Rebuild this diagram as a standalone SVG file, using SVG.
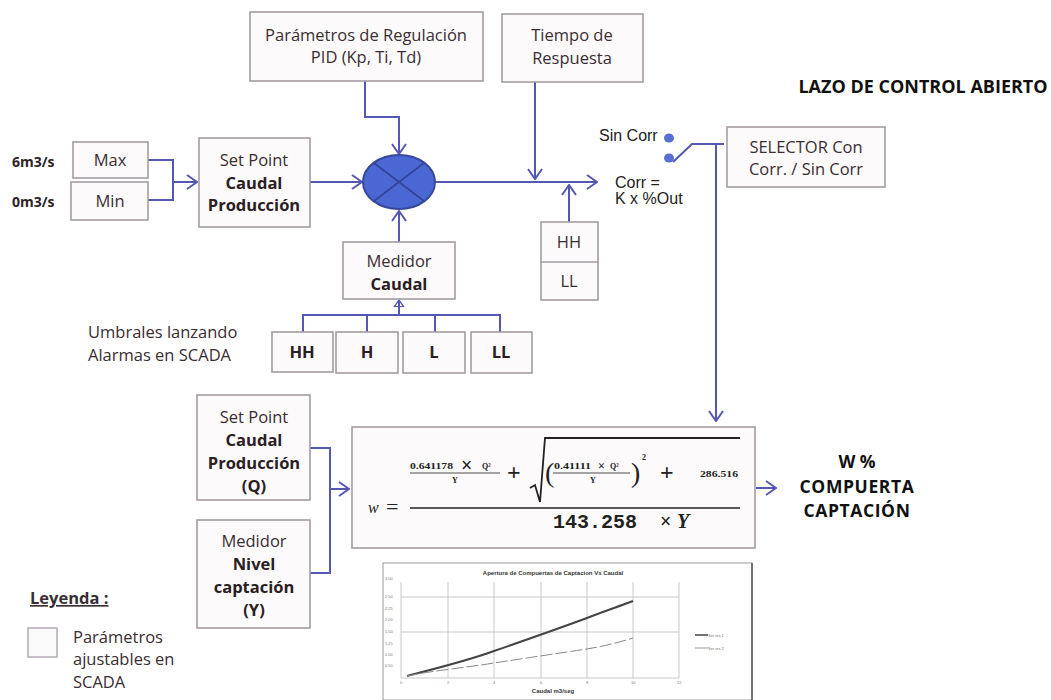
<svg xmlns="http://www.w3.org/2000/svg" width="1051" height="700" viewBox="0 0 1051 700">
<defs>
<style>
.box{fill:#fcfafa;stroke:#a39da3;stroke-width:1.6}
.t{font-family:"Open Sans","Liberation Sans",sans-serif;font-size:16.5px;font-weight:500;fill:#3a2d33;text-anchor:middle}
.b{font-weight:bold;fill:#2a2024}
.lbl{font-family:"Open Sans","Liberation Sans",sans-serif;font-size:14px;fill:#2e2428;font-weight:bold}
.ar{font-family:"Liberation Sans",Arial,sans-serif;font-size:16px;fill:#222}
.big{font-family:"Open Sans","Liberation Sans",sans-serif;font-weight:bold;fill:#111;text-anchor:middle}
.c{fill:none;stroke:#5557b4;stroke-width:2}
.f{font-family:"Liberation Serif","DejaVu Serif",serif;fill:#222}
.g{stroke:#bbb;stroke-width:0.8;fill:none}
.tiny{font-family:"Liberation Sans",sans-serif;font-size:4px;fill:#777}
</style>
<marker id="ah" viewBox="0 0 12 16" refX="11" refY="8" markerWidth="12" markerHeight="16" markerUnits="userSpaceOnUse" orient="auto">
<path d="M1,1 L11,8 L1,15" fill="none" stroke="#5557b4" stroke-width="2"/>
</marker>
<marker id="ahs" viewBox="0 0 12 16" refX="11" refY="8" markerWidth="8" markerHeight="12" markerUnits="userSpaceOnUse" orient="auto">
<path d="M1,1 L11,8 L1,15 Z" fill="none" stroke="#5557b4" stroke-width="2"/>
</marker>
</defs>
<rect width="1051" height="700" fill="#fff"/>

<g id="connectors">
<path class="c" d="M148,160 H173 V200 H148"/>
<path class="c" d="M173,182 H197" marker-end="url(#ah)"/>
<path class="c" d="M310,182 H362" marker-end="url(#ah)"/>
<path class="c" d="M365,81 V117 H399 V154" marker-end="url(#ah)"/>
<path class="c" d="M399,242 V211" marker-end="url(#ah)"/>
<path class="c" d="M435,182 H597" marker-end="url(#ah)"/>
<path class="c" d="M535,82 V179" marker-end="url(#ah)"/>
<path class="c" d="M569,222 V185" marker-end="url(#ah)"/>
<path class="c" d="M303,332 V315 H500 V332 M367,315 V332 M435,315 V332"/>
<path class="c" d="M399,315 V300" marker-end="url(#ahs)"/>
<path class="c" d="M673,162 L692,144 H724 M716,144 V421" marker-end="url(#ah)"/>
<path class="c" d="M310,448 H330 V573 H310"/>
<path class="c" d="M330,489 H349" marker-end="url(#ah)"/>
<path class="c" d="M756,488 H776" marker-end="url(#ah)"/>
</g>

<g id="pid">
<rect class="box" x="250" y="12" width="233" height="69"/>
<text class="t" x="366" y="41">Parámetros de Regulación</text>
<text class="t" x="366" y="63">PID (Kp, Ti, Td)</text>
</g>
<g id="tiempo">
<rect class="box" x="502" y="14" width="141" height="68"/>
<text class="t" x="572" y="41">Tiempo de</text>
<text class="t" x="572" y="64">Respuesta</text>
</g>
<g id="max">
<text class="lbl" x="12" y="167">6m3/s</text>
<rect class="box" x="73" y="142" width="75" height="36"/>
<text class="t" x="110" y="166">Max</text>
</g>
<g id="min">
<text class="lbl" x="12" y="207">0m3/s</text>
<rect class="box" x="71" y="182" width="77" height="38"/>
<text class="t" x="110" y="207">Min</text>
</g>
<g id="setpoint">
<rect class="box" x="199" y="138" width="111" height="89"/>
<text class="t" x="254" y="166">Set Point</text>
<text class="t b" x="254" y="189">Caudal</text>
<text class="t b" x="254" y="211">Producción</text>
</g>
<g id="sum">
<ellipse cx="399" cy="182" rx="36" ry="27" fill="#4a67d3" stroke="#37489c" stroke-width="2"/>
<path d="M374,163 L424,201 M424,163 L374,201" stroke="#33449a" stroke-width="1.8"/>
</g>
<g id="medidor-caudal">
<rect class="box" x="343" y="242" width="112" height="57"/>
<text class="t" x="399" y="267">Medidor</text>
<text class="t b" x="399" y="290">Caudal</text>
</g>
<g id="hhll-right">
<rect class="box" x="541" y="222" width="57" height="78"/>
<line x1="541" y1="262" x2="598" y2="262" stroke="#a39da3" stroke-width="1.6"/>
<text class="t" x="569" y="248">HH</text>
<text class="t" x="569" y="287">LL</text>
</g>
<g id="umbrales">
<text class="t" x="88" y="338" style="text-anchor:start">Umbrales  lanzando</text>
<text class="t" x="88" y="361" style="text-anchor:start">Alarmas en SCADA</text>
</g>
<g id="th-hh"><rect class="box" x="272" y="332" width="61" height="40"/><text class="t b" x="302" y="358">HH</text></g>
<g id="th-h"><rect class="box" x="336" y="332" width="62" height="41"/><text class="t b" x="367" y="358">H</text></g>
<g id="th-l"><rect class="box" x="403" y="332" width="62" height="41"/><text class="t b" x="434" y="358">L</text></g>
<g id="th-ll"><rect class="box" x="471" y="332" width="61" height="41"/><text class="t b" x="501" y="358">LL</text></g>

<g id="switch">
<text class="ar" x="599" y="141">Sin Corr</text>
<ellipse cx="669" cy="138" rx="5" ry="4.5" fill="#5870d6"/>
<ellipse cx="669" cy="158" rx="5" ry="4.5" fill="#5870d6"/>
<text class="ar" x="615" y="188">Corr =</text>
<text class="ar" x="615" y="204">K x %Out</text>
</g>
<g id="selector">
<rect class="box" x="727" y="127" width="158" height="60"/>
<text class="t" x="806" y="153">SELECTOR Con</text>
<text class="t" x="806" y="175">Corr. / Sin Corr</text>
</g>
<g id="title">
<text class="big" x="923" y="93" font-size="18">LAZO DE CONTROL ABIERTO</text>
</g>

<g id="sp-q">
<rect class="box" x="197" y="395" width="113" height="105"/>
<text class="t" x="254" y="423">Set Point</text>
<text class="t b" x="254" y="446">Caudal</text>
<text class="t b" x="254" y="469">Producción</text>
<text class="t b" x="254" y="492">(Q)</text>
</g>
<g id="medidor-nivel">
<rect class="box" x="197" y="520" width="113" height="108"/>
<text class="t" x="254" y="547">Medidor</text>
<text class="t b" x="254" y="570">Nivel</text>
<text class="t b" x="254" y="593">captación</text>
<text class="t b" x="254" y="616">(Y)</text>
</g>

<g id="formula">
<rect class="box" x="352" y="427" width="403" height="121" fill="#fff"/>
<text class="f" x="368" y="513" font-size="16" font-style="italic">w</text>
<text class="f" x="386" y="514" font-size="22">=</text>
<line x1="410" y1="508" x2="740" y2="508" stroke="#222" stroke-width="1.6"/>
<text class="f" x="410" y="469" font-size="8" font-weight="bold" textLength="43" lengthAdjust="spacingAndGlyphs">0.641178</text>
<text class="f" x="461" y="472" font-size="20" font-weight="bold">×</text>
<text class="f" x="482" y="469" font-size="8" font-weight="bold">Q²</text>
<line x1="410" y1="473" x2="500" y2="473" stroke="#222" stroke-width="0.8"/>
<text class="f" x="452" y="483" font-size="8" font-weight="bold">Y</text>
<text class="f" x="507" y="480" font-size="24" font-weight="bold">+</text>
<path d="M530,488 L535,485 L540,502 L545,438 H740" fill="none" stroke="#222" stroke-width="1.8"/>
<text class="f" x="545" y="482" font-size="28">(</text>
<text class="f" x="554" y="469" font-size="8" font-weight="bold" textLength="37" lengthAdjust="spacingAndGlyphs">0.41111</text>
<text class="f" x="598" y="470" font-size="12" font-weight="bold">×</text>
<text class="f" x="610" y="469" font-size="8" font-weight="bold">Q²</text>
<line x1="553" y1="473" x2="630" y2="473" stroke="#222" stroke-width="0.8"/>
<text class="f" x="590" y="483" font-size="8" font-weight="bold">Y</text>
<text class="f" x="631" y="482" font-size="28">)</text>
<text class="f" x="642" y="460" font-size="8" font-weight="bold">2</text>
<text class="f" x="660" y="480" font-size="24" font-weight="bold">+</text>
<text class="f" x="700" y="477" font-size="8" font-weight="bold" textLength="38" lengthAdjust="spacingAndGlyphs">286.516</text>
<text x="553" y="528" font-family="Liberation Mono,monospace" font-size="20" font-weight="bold" fill="#222">143.258</text>
<text class="f" x="660" y="528" font-size="20" font-weight="bold">×</text>
<text class="f" x="677" y="528" font-size="20" font-style="italic" font-weight="bold">Y</text>
</g>
<g id="output">
<text class="big" x="857" y="468" font-size="17.5">W %</text>
<text class="big" x="857" y="493" font-size="17.5" letter-spacing="0.6">COMPUERTA</text>
<text class="big" x="857" y="517" font-size="17.5" letter-spacing="0.6">CAPTACIÓN</text>
</g>

<g id="chart">
<rect x="383" y="563" width="369" height="137" fill="#fff" stroke="#999" stroke-width="1"/>
<line x1="752" y1="563" x2="752" y2="700" stroke="#555" stroke-width="1.5"/>
<text x="553" y="575" font-family="Liberation Sans,sans-serif" font-size="6" font-weight="bold" fill="#333" text-anchor="middle">Apertura de Compuertas de Captacion  Vs Caudal</text>
<path class="g" d="M401,582 V678 M448,582 V678 M494,582 V678 M541,582 V678 M587,582 V678 M633,582 V678 M679,582 V678 M401,597 H679 M401,632 H679 M401,678 H679"/>
<g class="tiny">
<text x="385" y="580">3.00</text><text x="385" y="598">2.50</text><text x="385" y="610">2.25</text><text x="385" y="621">2.00</text><text x="385" y="633">1.50</text><text x="385" y="645">1.25</text><text x="385" y="656">1.00</text><text x="385" y="667">0.50</text>
<text x="400" y="684">0</text><text x="447" y="684">2</text><text x="493" y="684">4</text><text x="540" y="684">6</text><text x="586" y="684">8</text><text x="631" y="684">10</text><text x="677" y="684">12</text>
<text x="708" y="637">Ser ies 1</text><text x="708" y="650">Ser ies 2</text>
</g>
<path d="M407,676 C430,670 470,660 494,651 C520,642 560,628 587,618 C605,611 620,606 633,601" fill="none" stroke="#444" stroke-width="2"/>
<path d="M407,676 C430,671 470,667 494,663 C520,659 560,653 587,649 C605,646 620,642 633,638" fill="none" stroke="#888" stroke-width="1" stroke-dasharray="12,3"/>
<line x1="695" y1="635" x2="708" y2="635" stroke="#444" stroke-width="1.5"/>
<line x1="695" y1="648" x2="708" y2="648" stroke="#999" stroke-width="1"/>
<text x="553" y="693" font-family="Liberation Sans,sans-serif" font-size="6" font-weight="bold" fill="#333" text-anchor="middle">Caudal m3/seg</text>
</g>

<g id="legend">
<text x="30" y="604" font-family="Open Sans,Liberation Sans,sans-serif" font-size="16.5" font-weight="bold" fill="#3a2d33" text-decoration="underline">Leyenda :</text>
<rect x="28" y="628" width="29" height="29" fill="#fbfafb" stroke="#b5a8b8" stroke-width="1.5"/>
<text class="t" x="73" y="643" style="text-anchor:start">Parámetros</text>
<text class="t" x="73" y="665" style="text-anchor:start">ajustables en</text>
<text class="t" x="73" y="688" style="text-anchor:start">SCADA</text>
</g>
</svg>
